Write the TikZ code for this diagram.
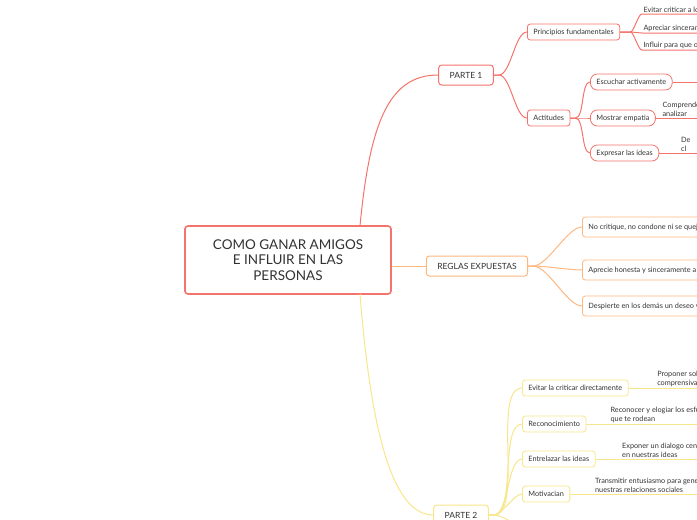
\documentclass[tikz,border=0pt]{standalone}
\usepackage{fontspec}
\setmainfont{Lato}
\usetikzlibrary{positioning,calc}
\definecolor{rojo}{HTML}{F4736B}
\definecolor{naranja}{HTML}{FFB780}
\definecolor{amarillo}{HTML}{F8E68A}
\tikzset{main base/.style={draw,thick,rounded corners=3pt,fill=white,text=black!80}, }
\tikzset{main root/.style={main base,draw=rojo,line width=1.6pt,align=center,
    font=\fontsize{13.5}{15.5}\selectfont,minimum width=206pt,minimum height=68pt}, }
\tikzset{main part/.style={main base,line width=1pt,font=\fontsize{8.5}{10}\selectfont,
    minimum height=20pt,inner xsep=11pt}, }
\tikzset{main sub/.style={main base,line width=0.8pt,font=\fontsize{7.3}{8}\selectfont,
    minimum height=16pt,inner xsep=6pt,anchor=west}, }
\tikzset{main leaf/.style={font=\fontsize{7.3}{8.5}\selectfont,align=left,anchor=south west,
    inner sep=1pt,text=black!80}, }
\tikzset{linea/.style={line width=1pt}}
\begin{document}
\begin{tikzpicture}[x=1pt,y=-1pt]
  \useasboundingbox (0,0) rectangle (697,520);
  \clip (0,0) rectangle (697,520);
  % nodes
  \node[main root] (root) at (288,260) {COMO GANAR AMIGOS\\E INFLUIR EN LAS\\PERSONAS};
  \node[main part,draw=rojo] (p1) at (466,75) {PARTE 1};
  \node[main part,draw=naranja] (reg) at (477,266) {REGLAS EXPUESTAS};
  \node[main part,draw=amarillo] (p2) at (461,515) {PARTE 2};
  %
  \node[main sub,draw=rojo] (pf) at (527,32) {Principios fundamentales};
  \node[main sub,draw=rojo] (act) at (527,118) {Actitudes};
  \node[main sub,draw=rojo,rounded corners=7pt] (esc) at (590,82) {Escuchar activamente};
  \node[main sub,draw=rojo,rounded corners=7pt] (emp) at (590,118) {Mostrar empatia};
  \node[main sub,draw=rojo,rounded corners=7pt] (exp) at (590,153) {Expresar las ideas};
  %
  \node[main sub,draw=naranja,minimum height=20pt] (r1) at (582,227) {No critique, no condone ni se queje de los demás};
  \node[main sub,draw=naranja,minimum height=20pt] (r2) at (582,270) {Aprecie honesta y sinceramente a los demás};
  \node[main sub,draw=naranja,minimum height=20pt] (r3) at (582,306) {Despierte en los demás un deseo vehemente};
  %
  \node[main sub,draw=amarillo] (ev) at (522,388) {Evitar la criticar directamente};
  \node[main sub,draw=amarillo] (rec) at (522,424) {Reconocimiento};
  \node[main sub,draw=amarillo] (ent) at (522,459) {Entrelazar las ideas};
  \node[main sub,draw=amarillo] (mot) at (522,494) {Motivacian};
  \node[main sub,draw=amarillo] (p2x) at (540,535) {Otros};
  % level 1 connectors
  \draw[linea,rojo] (360,226) .. controls (370,120) and (390,75) .. (p1.west);
  \draw[linea,naranja] (root.east) ++(0,6) coordinate (ro) -- (reg.west);
  \draw[linea,amarillo] (360,294) .. controls (370,420) and (390,515) .. (p2.west);
  % level 2 connectors
  \foreach \a/\b/\c in {p1/pf/rojo,p1/act/rojo,act/esc/rojo,act/emp/rojo,act/exp/rojo,
      reg/r1/naranja,reg/r2/naranja,reg/r3/naranja,
      p2/ev/amarillo,p2/rec/amarillo,p2/ent/amarillo,p2/mot/amarillo,p2/p2x/amarillo}
    \draw[linea,\c] (\a.east) -- ++(5,0) to[out=0,in=180,looseness=0.6] (\b.west);
  % leaves
  \coordinate (l1) at (700,14); \coordinate (l2) at (700,33); \coordinate (l3) at (700,50);
  \foreach \n/\t in {l1/Evitar criticar a los demás,l2/Apreciar sinceramente a los demás,
      l3/Influir para que otros actúen}
    \draw[linea,rojo] (pf.east) -- ++(10,0) to[out=0,in=180,looseness=0.5] ($(\n)+(-58,0)$)
      node[main leaf] {\t} -- (\n);
  \coordinate (e1) at (700,82); \coordinate (e2) at (700,118); \coordinate (e3) at (700,153);
  \draw[linea,rojo] (esc.east) -- (e1);
  \draw[linea,rojo] (emp.east) -- (e2) node[main leaf,pos=0.12] {Comprender\\analizar};
  \draw[linea,rojo] (exp.east) -- (e3) node[main leaf,pos=0.5] {De\\cl};
  \coordinate (y1) at (700,388); \coordinate (y2) at (700,424);
  \coordinate (y3) at (700,459); \coordinate (y4) at (700,494);
  \draw[linea,amarillo] (ev.east) -- (y1) node[main leaf,pos=0.38] {Proponer soluciones\\comprensivas};
  \draw[linea,amarillo] (rec.east) -- (y2) node[main leaf,pos=0.2] {Reconocer y elogiar los esfuerzos de\\que te rodean};
  \draw[linea,amarillo] (ent.east) -- (y3) node[main leaf,pos=0.24] {Exponer un dialogo centrado\\en nuestras ideas};
  \draw[linea,amarillo] (mot.east) -- (y4) node[main leaf,pos=0.18] {Transmitir entusiasmo para generar\\nuestras relaciones sociales};
\end{tikzpicture}
\end{document}
